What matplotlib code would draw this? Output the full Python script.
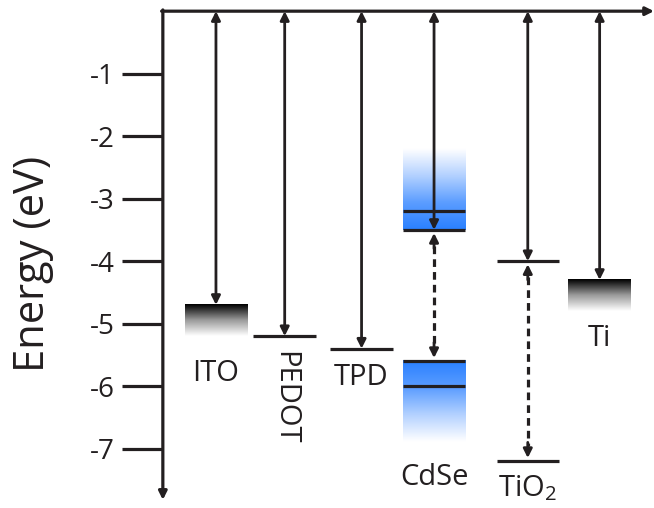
import numpy as np
import matplotlib.pyplot as plt
from matplotlib.colors import LinearSegmentedColormap

plt.rcParams['font.family'] = ['Open Sans', 'DejaVu Sans']
plt.rcParams['mathtext.fontset'] = 'custom'
plt.rcParams['mathtext.rm'] = 'Open Sans'

# materials and energies (eV, relative to vacuum)
materials = ['ITO', 'PEDOT', 'TPD', 'CdSe', 'TiO$_\\mathrm{2}$', 'Ti']
vac_to = [-4.7, -5.2, -5.4, -3.5, -4.0, -4.3]        # where the vacuum arrow ends
lines = [[], [-5.2], [-5.4], [-3.2, -3.5, -5.6, -6.0], [-4.0, -7.2], []]
bands = [[(-4.7, -5.2)], [], [], [(-3.5, -2.2), (-5.6, -6.9)], [], [(-4.3, -4.8)]]
band_kind = ['metal', None, None, 'dot', None, 'metal']
gaps = [None, None, None, (-3.5, -5.6), (-4.0, -7.2), None]
yticks = [-1, -2, -3, -4, -5, -6, -7]

# layout
col_x = [0.85, 1.95, 3.18, 4.34, 5.84, 6.99]
half_w = 0.5
label_y = [-5.79, -6.18, -5.86, -7.46, -7.63, -5.23]
label_rot = [0, 270, 0, 0, 0, 0]
ink = '#231f20'
blue = '#2a80ff'

fig = plt.figure(figsize=(6.54, 5.08), dpi=100)
ax = fig.add_axes([0.249, 0.016, 0.751, 0.962])

cmaps = {
    'metal': LinearSegmentedColormap.from_list('m', ['white', '#9a9a9a', 'black']),
    'dot': LinearSegmentedColormap.from_list('d', ['white', '#b3d1ff', '#5b9dff', blue]),
}

for i, x in enumerate(col_x):
    # gradient bands: full colour at the first energy, white at the second
    for (start, end) in bands[i]:
        grad = np.linspace(0, 1, 100).reshape(-1, 1)
        lo, hi = min(start, end), max(start, end)
        img = grad if start > end else grad[::-1]
        ax.imshow(img, cmap=cmaps[band_kind[i]], origin='lower', aspect='auto',
                  extent=[x - half_w, x + half_w, lo, hi], zorder=1)
    for lv in lines[i]:
        ax.plot([x - half_w, x + half_w], [lv, lv], color=ink, lw=2.3,
                solid_capstyle='butt', zorder=3)
    # vacuum arrow
    ax.annotate('', xy=(x, vac_to[i]), xytext=(x, 0),
                arrowprops=dict(arrowstyle='<|-|>', color=ink, lw=2.0,
                                mutation_scale=13, shrinkA=0, shrinkB=0),
                zorder=4)
    # band gap (dashed) arrow
    if gaps[i] is not None:
        g_top, g_bot = gaps[i]
        ax.plot([x, x], [g_top - 0.25, g_bot + 0.25], color=ink, lw=2.3,
                ls=(0, (2.4, 1.6)), zorder=3)
        for tip, tail in [(g_top - 0.05, g_top - 0.3), (g_bot + 0.05, g_bot + 0.3)]:
            ax.annotate('', xy=(x, tip), xytext=(x, tail),
                        arrowprops=dict(arrowstyle='-|>', color=ink, lw=2.0,
                                        mutation_scale=13, shrinkA=0, shrinkB=0))
    ax.text(x, label_y[i], materials[i], ha='center', va='center',
            rotation=label_rot[i], fontsize=21, color=ink)

# axes drawn as arrows
ax.annotate('', xy=(0, -7.82), xytext=(0, 0.02),
            arrowprops=dict(arrowstyle='-|>', color=ink, lw=2.3,
                            mutation_scale=12, shrinkA=0, shrinkB=0),
            annotation_clip=False)
ax.annotate('', xy=(7.86, 0), xytext=(-0.02, 0),
            arrowprops=dict(arrowstyle='-|>', color=ink, lw=2.3,
                            mutation_scale=12, shrinkA=0, shrinkB=0),
            annotation_clip=False)

for s in ax.spines.values():
    s.set_visible(False)
ax.set_xlim(0, 7.86)
ax.set_ylim(-7.82, 0)
ax.set_xticks([])
ax.set_yticks(yticks)
ax.set_yticklabels([str(t) for t in yticks])
ax.tick_params(axis='y', direction='out', length=29.5, width=2.3, color=ink,
               labelsize=20, labelcolor=ink, pad=5)
ax.set_ylabel('Energy (eV)', fontsize=30, color=ink)
ax.yaxis.set_label_coords(-0.222, 0.483)

fig.savefig('out.png', dpi=100)
